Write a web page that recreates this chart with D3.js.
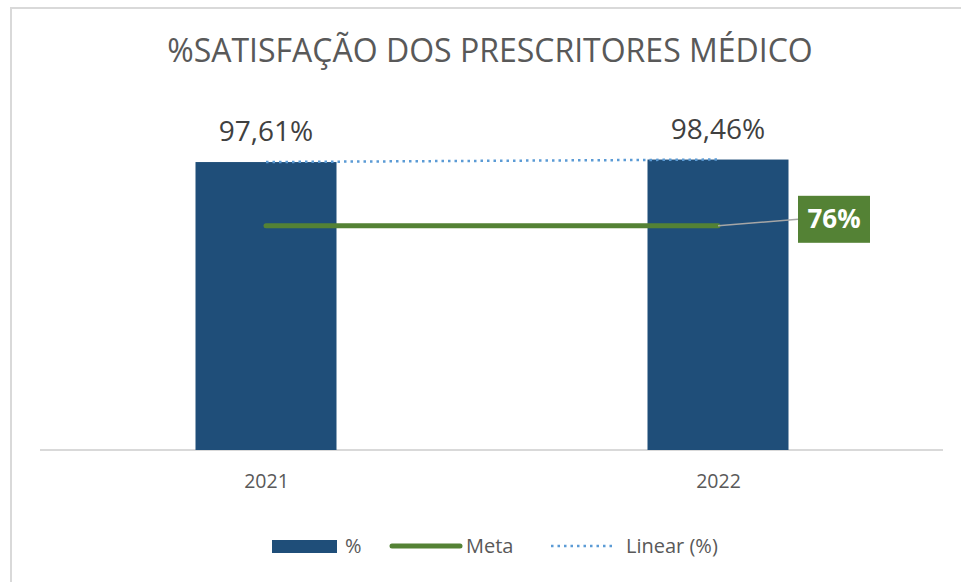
<!DOCTYPE html>
<html>
<head>
<meta charset="utf-8">
<script src="https://cdn.jsdelivr.net/npm/d3@7"></script>
<style>
  body { margin: 0; background: #fff; }
  svg { display: block; font-family: "Open Sans", "Segoe UI", sans-serif; }
</style>
</head>
<body>
<div id="chart"></div>
<script>
// Data
const years = ["2021", "2022"];
const satisfaction = [97.61, 98.46];
const meta = [76, 76];
const valueLabels = ["97,61%", "98,46%"];
const metaLabel = "76%";
const legendItems = ["%", "Meta", "Linear (%)"];

const width = 961;
const height = 582;
const margin = {top: 155, bottom: 132, left: 40, right: 17};
const baseline = height - margin.bottom;

const blue = "#1f4e79";
const green = "#548235";
const trendBlue = "#5b9bd5";
const textGrey = "#595959";

const svg = d3.select("#chart")
  .append("svg")
    .attr("width", width)
    .attr("height", height);

// Chart frame
svg.append("rect")
  .attr("x", 11)
  .attr("y", 8)
  .attr("width", width + 20)
  .attr("height", height + 20)
  .attr("fill", "#fff")
  .attr("stroke", "#d9d9d9")
  .attr("stroke-width", 2);

// Title
svg.append("text")
  .attr("x", 490)
  .attr("y", 62)
  .attr("text-anchor", "middle")
  .attr("fill", textGrey)
  .style("font-size", "32px")
  .text("%SATISFAÇÃO DOS PRESCRITORES MÉDICO");

// Scales
const xScale = d3.scalePoint()
  .domain(years)
  .range([margin.left, width - margin.right])
  .padding(0.5);

const yScale = d3.scaleLinear()
  .domain([0, 100])
  .range([baseline, margin.top]);

const barWidth = 141;

// Axis line (categories)
const bottomAxis = d3.axisBottom(xScale)
  .tickSize(0)
  .tickPadding(24)
  .tickSizeOuter(0);
const axisG = svg.append("g")
  .attr("transform", `translate(0, ${baseline})`)
  .call(bottomAxis);
axisG.select(".domain")
  .attr("stroke", "#d9d9d9")
  .attr("stroke-width", 2)
  .attr("d", `M${margin.left},0H${943}`);
axisG.selectAll(".tick text")
  .attr("fill", textGrey)
  .style("font-size", "19.5px")
  .style("font-family", "'Open Sans', sans-serif");

// Bars
const rows = years.map((y, i) => ({year: y, value: satisfaction[i], label: valueLabels[i], meta: meta[i]}));

svg.selectAll(".bar")
  .data(rows)
  .join("rect")
    .attr("class", "bar")
    .attr("x", d => xScale(d.year) - barWidth / 2)
    .attr("y", d => yScale(d.value))
    .attr("width", barWidth)
    .attr("height", d => baseline - yScale(d.value))
    .attr("fill", blue);

// Value labels
svg.selectAll(".value-label")
  .data(rows)
  .join("text")
    .attr("class", "value-label")
    .attr("x", d => xScale(d.year))
    .attr("y", d => yScale(d.value) - 21)
    .attr("text-anchor", "middle")
    .attr("fill", "#404040")
    .style("font-size", "28px")
    .text(d => d.label);

// Linear trend (least squares through the points)
const xs = rows.map((d, i) => i);
const ys = rows.map(d => d.value);
const mx = d3.mean(xs), my = d3.mean(ys);
const slope = d3.sum(xs, (x, i) => (x - mx) * (ys[i] - my)) / d3.sum(xs, x => (x - mx) ** 2);
const intercept = my - slope * mx;

const trendLine = d3.line()
  .x(d => xScale(d.year))
  .y((d, i) => yScale(intercept + slope * i));

svg.append("path")
  .datum(rows)
  .attr("d", trendLine)
  .attr("fill", "none")
  .attr("stroke", trendBlue)
  .attr("stroke-width", 2.5)
  .attr("stroke-dasharray", "2.5,4");

// Meta line
const metaLine = d3.line()
  .x(d => xScale(d.year))
  .y(d => yScale(d.meta));

svg.append("path")
  .datum(rows)
  .attr("d", metaLine)
  .attr("fill", "none")
  .attr("stroke", green)
  .attr("stroke-width", 5)
  .attr("stroke-linecap", "round");

// Meta label with leader line
const last = rows[rows.length - 1];
const lx = xScale(last.year);
const ly = yScale(last.meta);
const boxX = lx + 80, boxY = ly - 30, boxW = 72, boxH = 47;

svg.append("line")
  .attr("x1", lx)
  .attr("y1", ly)
  .attr("x2", boxX)
  .attr("y2", boxY + boxH / 2)
  .attr("stroke", "#a6a6a6")
  .attr("stroke-width", 1.5);

svg.append("rect")
  .attr("x", boxX)
  .attr("y", boxY)
  .attr("width", boxW)
  .attr("height", boxH)
  .attr("fill", green);

svg.append("text")
  .attr("x", boxX + boxW / 2)
  .attr("y", boxY + boxH / 2 + 9)
  .attr("text-anchor", "middle")
  .attr("fill", "#fff")
  .style("font-size", "26px")
  .style("font-weight", "bold")
  .text(metaLabel);

// Legend
const legendY = 546;
const legend = svg.append("g").style("font-size", "20px");

legend.append("rect")
  .attr("x", 272).attr("y", legendY - 6)
  .attr("width", 65).attr("height", 13)
  .attr("fill", blue);
legend.append("text")
  .attr("x", 345).attr("y", legendY + 7)
  .attr("fill", textGrey)
  .text(legendItems[0]);

legend.append("line")
  .attr("x1", 392).attr("x2", 460)
  .attr("y1", legendY).attr("y2", legendY)
  .attr("stroke", green)
  .attr("stroke-width", 5)
  .attr("stroke-linecap", "round");
legend.append("text")
  .attr("x", 466).attr("y", legendY + 7)
  .attr("fill", textGrey)
  .text(legendItems[1]);

legend.append("line")
  .attr("x1", 551).attr("x2", 615)
  .attr("y1", legendY).attr("y2", legendY)
  .attr("stroke", trendBlue)
  .attr("stroke-width", 2.5)
  .attr("stroke-dasharray", "2.5,4");
legend.append("text")
  .attr("x", 626).attr("y", legendY + 7)
  .attr("fill", textGrey)
  .text(legendItems[2]);
</script>
</body>
</html>
